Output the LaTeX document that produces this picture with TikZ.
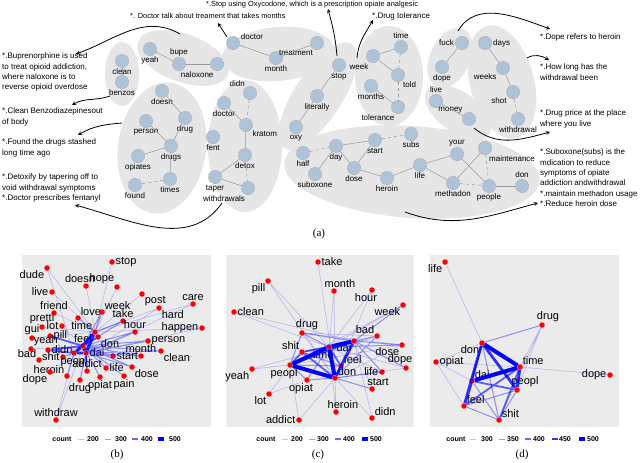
\documentclass[tikz,border=0pt]{standalone}
\usepackage{fontspec}
\setmainfont{Liberation Sans}
\newfontfamily\capfont{Liberation Serif}
\usetikzlibrary{shapes,arrows,positioning,calc}

\definecolor{nodeblue}{HTML}{AFC3D8}
\definecolor{bubblegray}{HTML}{E6E6E6}
\definecolor{panelgray}{HTML}{EBEBEB}

\begin{document}
\begin{tikzpicture}[x=1pt, y=-1pt,
    bubble/.style={ellipse, fill=bubblegray, inner sep=0pt},
    word/.style={circle, fill=nodeblue, draw=gray, densely dotted, minimum size=13.5pt, inner sep=0pt},
    wlab/.style={font=\fontsize{8}{9}\selectfont, inner sep=1pt},
    link/.style={gray!80, line width=0.5pt},
    dlink/.style={link, dashed},
    note/.style={font=\fontsize{8}{10.3}\selectfont, align=left, inner sep=0pt, anchor=north west},
    topnote/.style={note, font=\fontsize{7.4}{9}\selectfont},
    arrow/.style={->, >=stealth, thick},
    pdot/.style={circle, fill=red, inner sep=0pt, minimum size=5.5pt},
    plab/.style={font=\fontsize{11}{11}\selectfont, inner sep=0.5pt},
    legtext/.style={font=\bfseries\fontsize{7}{7}\selectfont, inner sep=0pt},
    caption/.style={font=\capfont\fontsize{11}{11}\selectfont},
    e1/.style={blue, opacity=0.25, line width=0.5pt},
    e2/.style={blue, opacity=0.4, line width=1pt},
    e3/.style={blue, opacity=0.6, line width=1.8pt},
    e4/.style={blue, opacity=0.8, line width=2.8pt},
    e5/.style={blue, line width=4pt},
]
    \useasboundingbox (0,0) rectangle (640,463);

    % Topic bubbles
    \node[bubble, minimum width=34pt, minimum height=64pt] (g1) at (122,74) {};
    \node[bubble, minimum width=96pt, minimum height=48pt, rotate=-20] (g2) at (183,58) {};
    \node[bubble, minimum width=112pt, minimum height=54pt, rotate=5] (g3) at (278,54) {};
    \node[bubble, minimum width=88pt, minimum height=132pt, rotate=-8] (g4) at (162,148) {};
    \node[bubble, minimum width=74pt, minimum height=132pt] (g5) at (245,146) {};
    \node[bubble, minimum width=48pt, minimum height=124pt, rotate=-33] (g6) at (318,96) {};
    \node[bubble, minimum width=68pt, minimum height=100pt] (g7) at (389,76) {};
    \node[bubble, minimum width=40pt, minimum height=64pt, rotate=-25] (g8) at (450,58) {};
    \node[bubble, minimum width=76pt, minimum height=40pt, rotate=-35] (g9) at (458,112) {};
    \node[bubble, minimum width=64pt, minimum height=116pt, rotate=15] (g10) at (502,82) {};
    \node[bubble, minimum width=256pt, minimum height=92pt, rotate=-4] (g11) at (412,172) {};

    % Words
    \node[word, label={[wlab]below:clean}] (clean) at (122,61) {};
    \node[word, label={[wlab]below:benzos}] (benzos) at (122,82) {};
    \node[word, label={[wlab]below:yeah}] (yeah) at (150,49) {};
    \node[word, label={[wlab]above:bupe}] (bupe) at (179,64) {};
    \node[word, label={[wlab]-110:naloxone}] (naloxone) at (217,64) {};
    \node[word, label={[wlab]15:doctor}] (doctor) at (233,43) {};
    \node[word, label={[wlab]below:month}] (month) at (276,58) {};
    \node[word, label={[wlab]-115:treatment}] (treatment) at (317,43) {};
    \node[word, label={[wlab]below:doesn}] (doesn) at (162,91) {};
    \node[word, label={[wlab]below:drug}] (drug) at (185,118) {};
    \node[word, label={[wlab]below:person}] (person) at (146,121) {};
    \node[word, label={[wlab]below:drugs}] (drugs) at (171,146) {};
    \node[word, label={[wlab]below:opiates}] (opiates) at (138,156) {};
    \node[word, label={[wlab]below:times}] (times) at (170,179) {};
    \node[word, label={[wlab]below:found}] (found) at (135,185) {};
    \node[word, label={[wlab]125:didn}] (didn) at (250,93) {};
    \node[word, label={[wlab]below:doctor}] (doctor2) at (224,103) {};
    \node[word, label={[wlab]-40:kratom}] (kratom) at (246,125) {};
    \node[word, label={[wlab]below:fent}] (fent) at (213,137) {};
    \node[word, label={[wlab]below:detox}] (detox) at (245,155) {};
    \node[word, label={[wlab]below:taper}] (taper) at (215,177) {};
    \node[word, label={[wlab]-105:withdrawals}] (withdrawals) at (248,188) {};
    \node[word, label={[wlab]below:stop}] (stop) at (339,65) {};
    \node[word, label={[wlab]below:literally}] (literally) at (317,96) {};
    \node[word, label={[wlab]below:oxy}] (oxy) at (296,127) {};
    \node[word, label={[wlab]above:time}] (time) at (401,47) {};
    \node[word, label={[wlab]-120:week}] (week) at (373,56) {};
    \node[word, label={[wlab]-55:told}] (told) at (398,75) {};
    \node[word, label={[wlab]below:months}] (months) at (371,86) {};
    \node[word, label={[wlab]-110:tolerance}] (tolerance) at (398,107) {};
    \node[word, label={[wlab]left:fuck}] (fuck) at (462,43) {};
    \node[word, label={[wlab]below:dope}] (dope) at (442,67) {};
    \node[word, label={[wlab]above:live}] (live) at (436,101) {};
    \node[word, label={[wlab]140:money}] (money) at (469,119) {};
    \node[word, label={[wlab]right:days}] (days) at (485,43) {};
    \node[word, label={[wlab]-140:weeks}] (weeks) at (503,68) {};
    \node[word, label={[wlab]-140:shot}] (shot) at (513,92) {};
    \node[word, label={[wlab]below:withdrawal}] (withdrawal) at (518,119) {};
    \node[word, label={[wlab]below:half}] (half) at (303,153) {};
    \node[word, label={[wlab]below:day}] (day) at (336,146) {};
    \node[word, label={[wlab]below:suboxone}] (suboxone) at (315,174) {};
    \node[word, label={[wlab]below:start}] (start) at (375,140) {};
    \node[word, label={[wlab]below:subs}] (subs) at (411,134) {};
    \node[word, label={[wlab]below:dose}] (dose) at (354,168) {};
    \node[word, label={[wlab]below:heroin}] (heroin) at (387,178) {};
    \node[word, label={[wlab]below:life}] (life) at (420,165) {};
    \node[word, label={[wlab]above:your}] (your) at (457,154) {};
    \node[word, label={[wlab]-65:maintenance}] (maintenance) at (485,148) {};
    \node[word, label={[wlab]below:methadon}] (methadon) at (453,183) {};
    \node[word, label={[wlab]below:people}] (people) at (489,186) {};
    \node[word, label={[wlab]above:don}] (don) at (522,186) {};

    % Word links
    \draw[link] (clean) -- (benzos);
    \draw[link] (yeah) -- (bupe);
    \draw[link] (bupe) -- (naloxone);
    \draw[link] (doctor) -- (month);
    \draw[link] (month) -- (treatment);
    \draw[link] (doesn) -- (drug);
    \draw[link] (drug) -- (drugs);
    \draw[link] (person) -- (drugs);
    \draw[link] (drugs) -- (opiates);
    \draw[link] (drugs) -- (times);
    \draw[dlink] (times) -- (found);
    \draw[dlink] (didn) -- (kratom);
    \draw[link] (doctor2) -- (kratom);
    \draw[link] (kratom) -- (detox);
    \draw[link] (detox) -- (taper);
    \draw[dlink] (detox) -- (withdrawals);
    \draw[link] (taper) -- (withdrawals);
    \draw[link] (stop) -- (literally);
    \draw[link] (literally) -- (oxy);
    \draw[link] (week) -- (time);
    \draw[dlink] (time) -- (told);
    \draw[link] (week) -- (told);
    \draw[dlink] (told) -- (tolerance);
    \draw[link] (months) -- (tolerance);
    \draw[link] (fuck) -- (dope);
    \draw[link] (live) -- (money);
    \draw[link] (days) -- (weeks);
    \draw[link] (weeks) -- (shot);
    \draw[dlink] (shot) -- (withdrawal);
    \draw[dlink] (half) -- (day);
    \draw[link] (day) -- (suboxone);
    \draw[link] (day) -- (start);
    \draw[link] (day) -- (dose);
    \draw[link] (dose) -- (start);
    \draw[dlink] (start) -- (subs);
    \draw[link] (dose) -- (heroin);
    \draw[link] (heroin) -- (life);
    \draw[link] (life) -- (your);
    \draw[link] (life) -- (methadon);
    \draw[link] (your) -- (people);
    \draw[link] (methadon) -- (maintenance);
    \draw[dlink] (maintenance) -- (people);
    \draw[dlink] (methadon) -- (people);
    \draw[link] (people) -- (don);

    % Notes
    \node[topnote] (n-oxy) at (206,1) {*.Stop using Oxycodone, which is a prescription opiate analgesic};
    \node[topnote] (n-doctor) at (130,13) {*. Doctor talk about treament that takes months};
    \node[note] (n-tol) at (372,13) {*.Drug tolerance};
    \node[note] (n-bupe) at (2,53) {*.Buprenorphine is used\\to treat opioid addiction,\\where naloxone is to\\reverse opioid overdose};
    \node[note] (n-benzo) at (2,108) {*.Clean Benzodiazepinesout\\of body};
    \node[note] (n-found) at (2,139) {*.Found the drugs stashed\\long time ago};
    \node[note] (n-detox) at (2,174) {*.Detoxify by tapering off to\\void withdrawal symptoms\\*.Doctor prescribes fentanyl};
    \node[note] (n-dope) at (540,34) {*.Dope refers to heroin};
    \node[note] (n-weeks) at (540,64) {*.How long has the\\withdrawal been};
    \node[note] (n-money) at (540,110) {*.Drug price at the place\\where you live};
    \node[note] (n-subs) at (540,149) {*.Suboxone(subs) is the\\mdication to reduce\\symptoms of opiate\\addiction andwithdrawal\\*.maintain methadon usage\\*.Reduce heroin dose};

    % Arrows from bubbles to notes
    \coordinate (a1s) at (180,34);  \coordinate (a1e) at (76,54);
    \coordinate (a2s) at (110,96);  \coordinate (a2e) at (72,105);
    \coordinate (a3s) at (122,123); \coordinate (a3e) at (78,135);
    \coordinate (a4s) at (222,203); \coordinate (a4e) at (75,205);
    \coordinate (a5s) at (227,37);  \coordinate (a5e) at (218,23);
    \coordinate (a6s) at (337,56);  \coordinate (a6e) at (328,9);
    \coordinate (a7s) at (357,58);  \coordinate (a7e) at (373,20);
    \coordinate (a8s) at (458,31);  \coordinate (a8e) at (550,29);
    \coordinate (a9s) at (527,58);  \coordinate (a9e) at (549,60);
    \coordinate (a10s) at (474,128); \coordinate (a10e) at (550,132);
    \coordinate (a11s) at (405,212); \coordinate (a11e) at (538,203);
    \draw[arrow] (a1s) to[out=150, in=20] (a1e);
    \draw[arrow] (a2s) to[out=200, in=30] (a2e);
    \draw[arrow] (a3s) to[out=185, in=30] (a3e);
    \draw[arrow] (a4s) to[out=235, in=-15] (a4e);
    \draw[arrow] (a5s) -- (a5e);
    \draw[arrow] (a6s) to[out=95, in=-75] (a6e);
    \draw[arrow] (a7s) to[out=85, in=240] (a7e);
    \draw[arrow] (a8s) to[out=60, in=160] (a8e);
    \draw[arrow] (a9s) to[out=30, in=150] (a9e);
    \draw[arrow] (a10s) to[out=-40, in=195] (a10e);
    \draw[arrow] (a11s) to[out=-20, in=195] (a11e);

    \node[caption] (cap-a) at (319,234) {(a)};

    % Panels
    \fill[panelgray] (22,255) rectangle (211,427);
    \fill[panelgray] (226,255) rectangle (414,427);
    \fill[panelgray] (430,255) rectangle (619,427);

    % Panel (b)
    \node[pdot, label={[plab]right:stop}] (b-stop) at (112,262) {};
    \node[pdot, label={[plab]below left:dude}] (b-dude) at (47,268) {};
    \node[pdot, label={[plab,xshift=-6pt]above:doesn}] (b-doesn) at (86,286) {};
    \node[pdot, label={[plab]above left:hope}] (b-hope) at (117,287) {};
    \node[pdot, label={[plab]left:live}] (b-live) at (52,292) {};
    \node[pdot, label={[plab]above:friend}] (b-friend) at (54,313) {};
    \node[pdot, label={[plab]above right:love}] (b-love) at (78,318) {};
    \node[pdot, label={[plab]above right:week}] (b-week) at (102,312) {};
    \node[pdot, label={[plab]above:take}] (b-take) at (123,321) {};
    \node[pdot, label={[plab]below right:post}] (b-post) at (142,294) {};
    \node[pdot, label={[plab]below right:hard}] (b-hard) at (159,308) {};
    \node[pdot, label={[plab]above:care}] (b-care) at (193,304) {};
    \node[pdot, label={[plab]above:hour}] (b-hour) at (135,332) {};
    \node[pdot, label={[plab]left:happen}] (b-happen) at (202,328) {};
    \node[pdot, label={[plab]right:person}] (b-person) at (148,341) {};
    \node[pdot, label={[plab]below right:don}] (b-don) at (98,337) {};
    \node[pdot, label={[plab]above:month}] (b-month) at (141,356) {};
    \node[pdot, label={[plab]below right:clean}] (b-clean) at (161,351) {};
    \node[pdot, label={[plab]right:start}] (b-start) at (113,356) {};
    \node[pdot, label={[plab]right:life}] (b-life) at (106,368) {};
    \node[pdot, label={[plab]below right:dose}] (b-dose) at (132,367) {};
    \node[pdot, label={[plab]below:opiat}] (b-opiat) at (100,377) {};
    \node[pdot, label={[plab]below:pain}] (b-pain) at (124,376) {};
    \node[pdot, label={[plab]above:pretti}] (b-pretti) at (42,327) {};
    \node[pdot, label={[plab]left:lot}] (b-lot) at (62,326) {};
    \node[pdot, label={[plab]above left:time}] (b-time) at (95,332) {};
    \node[pdot, label={[plab]above:gui}] (b-gui) at (32,338) {};
    \node[pdot, label={[plab]right:pill}] (b-pill) at (50,336) {};
    \node[pdot, label={[plab]above right:yeah}] (b-yeah) at (31,349) {};
    \node[pdot, label={[plab]above:feel}] (b-feel) at (83,346) {};
    \node[pdot, label={[plab]right:didn}] (b-didn) at (48,350) {};
    \node[pdot, label={[plab]right:dai}] (b-dai) at (86,353) {};
    \node[pdot, label={[plab]above left:bad}] (b-bad) at (39,360) {};
    \node[pdot, label={[plab]left:shit}] (b-shit) at (63,357) {};
    \node[pdot, label={[plab]below:peopl}] (b-peopl) at (74,353) {};
    \node[pdot, label={[plab]above:addict}] (b-addict) at (87,371) {};
    \node[pdot, label={[plab]above left:heroin}] (b-heroin) at (67,376) {};
    \node[pdot, label={[plab]below left:dope}] (b-dope) at (50,372) {};
    \node[pdot, label={[plab]below:drug}] (b-drug) at (80,380) {};
    \node[pdot, label={[plab]above:withdraw}] (b-withdraw) at (56,420) {};

    \draw[e1] (b-time) -- (b-stop) (b-time) -- (b-dude) (b-time) -- (b-doesn) (b-time) -- (b-hope)
        (b-time) -- (b-live) (b-time) -- (b-friend) (b-time) -- (b-pretti) (b-time) -- (b-gui)
        (b-time) -- (b-care) (b-time) -- (b-happen) (b-time) -- (b-post) (b-time) -- (b-hard)
        (b-feel) -- (b-withdraw) (b-feel) -- (b-dope) (b-feel) -- (b-bad) (b-feel) -- (b-yeah)
        (b-feel) -- (b-lot) (b-dai) -- (b-care) (b-dai) -- (b-happen) (b-dai) -- (b-hard)
        (b-peopl) -- (b-withdraw) (b-peopl) -- (b-dude);
    \draw[e2] (b-feel) -- (b-week) (b-feel) -- (b-take) (b-feel) -- (b-hour) (b-feel) -- (b-person)
        (b-feel) -- (b-month) (b-feel) -- (b-clean) (b-feel) -- (b-start) (b-feel) -- (b-life)
        (b-feel) -- (b-dose) (b-feel) -- (b-pain) (b-feel) -- (b-opiat) (b-dai) -- (b-hour)
        (b-dai) -- (b-person) (b-dai) -- (b-clean) (b-dai) -- (b-month) (b-time) -- (b-love)
        (b-dai) -- (b-drug) (b-peopl) -- (b-heroin) (b-peopl) -- (b-shit) (b-time) -- (b-week)
        (b-time) -- (b-take) (b-dai) -- (b-start) (b-dai) -- (b-dose);
    \draw[e3] (b-time) -- (b-don) (b-feel) -- (b-pill) (b-feel) -- (b-didn) (b-dai) -- (b-addict)
        (b-peopl) -- (b-didn) (b-time) -- (b-peopl) (b-feel) -- (b-don);
    \draw[e4] (b-time) -- (b-feel) (b-time) -- (b-dai) (b-feel) -- (b-peopl) (b-dai) -- (b-peopl);
    \draw[e5] (b-feel) -- (b-dai);

    % Panel (c)
    \node[pdot, label={[plab]right:take}] (c-take) at (318,262) {};
    \node[pdot, label={[plab]below left:pill}] (c-pill) at (268,281) {};
    \node[pdot, label={[plab]right:clean}] (c-clean) at (234,312) {};
    \node[pdot, label={[plab,xshift=6pt]above:month}] (c-month) at (334,291) {};
    \node[pdot, label={[plab,xshift=-6pt]below:hour}] (c-hour) at (372,290) {};
    \node[pdot, label={[plab]below left:week}] (c-week) at (403,305) {};
    \node[pdot, label={[plab,xshift=5pt]above:drug}] (c-drug) at (302,333) {};
    \node[pdot, label={[plab]above left:bad}] (c-bad) at (377,336) {};
    \node[pdot, label={[plab]above left:shit}] (c-shit) at (302,352) {};
    \node[pdot, label={[plab,xshift=-6pt]below:time}] (c-time) at (329,347) {};
    \node[pdot, label={[plab]below left:dai}] (c-dai) at (354,341) {};
    \node[pdot, label={[plab]below left:dose}] (c-dose) at (402,345) {};
    \node[pdot, label={[plab]above right:feel}] (c-feel) at (341,366) {};
    \node[pdot, label={[plab,xshift=-6pt]above:dope}] (c-dope) at (406,368) {};
    \node[pdot, label={[plab,xshift=-6pt]below:peopl}] (c-peopl) at (290,365) {};
    \node[pdot, label={[plab]above right:don}] (c-don) at (335,378) {};
    \node[pdot, label={[plab]left:life}] (c-life) at (382,372) {};
    \node[pdot, label={[plab,xshift=6pt]above:start}] (c-start) at (372,389) {};
    \node[pdot, label={[plab,xshift=-6pt]below:opiat}] (c-opiat) at (307,380) {};
    \node[pdot, label={[plab]below left:yeah}] (c-yeah) at (252,369) {};
    \node[pdot, label={[plab]below left:lot}] (c-lot) at (269,394) {};
    \node[pdot, label={[plab,xshift=7pt]above:heroin}] (c-heroin) at (336,412) {};
    \node[pdot, label={[plab]above right:didn}] (c-didn) at (372,418) {};
    \node[pdot, label={[plab]left:addict}] (c-addict) at (299,420) {};

    \draw[e1] (c-take) -- (c-don) (c-pill) -- (c-time) (c-pill) -- (c-don) (c-clean) -- (c-time)
        (c-clean) -- (c-dai) (c-month) -- (c-don) (c-month) -- (c-time) (c-hour) -- (c-time)
        (c-hour) -- (c-don) (c-week) -- (c-time) (c-week) -- (c-peopl) (c-yeah) -- (c-dai)
        (c-yeah) -- (c-peopl) (c-lot) -- (c-peopl) (c-lot) -- (c-opiat) (c-addict) -- (c-peopl)
        (c-addict) -- (c-don) (c-heroin) -- (c-don) (c-heroin) -- (c-time) (c-didn) -- (c-don)
        (c-didn) -- (c-dai) (c-start) -- (c-dai) (c-dope) -- (c-time) (c-dope) -- (c-don)
        (c-dose) -- (c-peopl) (c-dose) -- (c-don) (c-bad) -- (c-peopl) (c-life) -- (c-time)
        (c-drug) -- (c-don) (c-drug) -- (c-bad) (c-drug) -- (c-dose);
    \draw[e2] (c-drug) -- (c-time) (c-drug) -- (c-peopl) (c-drug) -- (c-dai) (c-shit) -- (c-dai)
        (c-bad) -- (c-time) (c-bad) -- (c-don) (c-week) -- (c-dai) (c-dose) -- (c-dai)
        (c-dose) -- (c-time) (c-dope) -- (c-dai) (c-life) -- (c-don) (c-life) -- (c-dai)
        (c-start) -- (c-don) (c-opiat) -- (c-peopl) (c-opiat) -- (c-time) (c-opiat) -- (c-don)
        (c-shit) -- (c-feel) (c-peopl) -- (c-feel);
    \draw[e3] (c-shit) -- (c-time) (c-shit) -- (c-peopl) (c-shit) -- (c-don) (c-feel) -- (c-don)
        (c-feel) -- (c-time) (c-peopl) -- (c-dai);
    \draw[e4] (c-dai) -- (c-don) (c-dai) -- (c-feel);
    \draw[e5] (c-time) -- (c-dai) (c-time) -- (c-peopl) (c-time) -- (c-don) (c-peopl) -- (c-don);

    % Panel (d)
    \node[pdot, label={[plab]below left:life}] (d-life) at (445,262) {};
    \node[pdot, label={[plab,xshift=6pt]above:drug}] (d-drug) at (542,325) {};
    \node[pdot, label={[plab]below left:don}] (d-don) at (482,343) {};
    \node[pdot, label={[plab]right:opiat}] (d-opiat) at (436,362) {};
    \node[pdot, label={[plab]above right:time}] (d-time) at (520,367) {};
    \node[pdot, label={[plab]left:dope}] (d-dope) at (610,375) {};
    \node[pdot, label={[plab]above right:dai}] (d-dai) at (472,381) {};
    \node[pdot, label={[plab,xshift=8pt]above:peopl}] (d-peopl) at (517,390) {};
    \node[pdot, label={[plab]above right:feel}] (d-feel) at (464,406) {};
    \node[pdot, label={[plab]above right:shit}] (d-shit) at (499,420) {};

    \draw[e1] (d-life) -- (d-don) (d-time) -- (d-dope) (d-opiat) -- (d-time) (d-opiat) -- (d-don)
        (d-opiat) -- (d-feel) (d-opiat) -- (d-dai) (d-time) -- (d-drug) (d-peopl) -- (d-drug)
        (d-shit) -- (d-drug);
    \draw[e2] (d-don) -- (d-drug) (d-dai) -- (d-shit) (d-feel) -- (d-shit) (d-don) -- (d-shit)
        (d-peopl) -- (d-shit) (d-feel) -- (d-peopl);
    \draw[e3] (d-don) -- (d-dai) (d-dai) -- (d-peopl) (d-time) -- (d-shit) (d-feel) -- (d-time);
    \draw[e4] (d-don) -- (d-peopl) (d-time) -- (d-peopl) (d-don) -- (d-feel) (d-feel) -- (d-dai);
    \draw[e5] (d-don) -- (d-time) (d-dai) -- (d-time);

    % Legends
    \node[legtext] (b-count) at (62,439) {count};
    \draw[e1] (78,439) -- (84,439);   \node[legtext] (b-200) at (93,439) {200};
    \draw[e2] (105,439) -- (111,439); \node[legtext] (b-300) at (121,439) {300};
    \draw[e3] (132,439) -- (138,439); \node[legtext] (b-400) at (147,439) {400};
    \draw[e5] (158,439) -- (164,439); \node[legtext] (b-500) at (175,439) {500};

    \node[legtext] (c-count) at (266,439) {count};
    \draw[e1] (282,439) -- (288,439); \node[legtext] (c-200) at (297,439) {200};
    \draw[e2] (309,439) -- (315,439); \node[legtext] (c-300) at (323,439) {300};
    \draw[e3] (335,439) -- (341,439); \node[legtext] (c-400) at (349,439) {400};
    \draw[e5] (362,439) -- (368,439); \node[legtext] (c-500) at (376,439) {500};

    \node[legtext] (d-count) at (456,439) {count};
    \draw[e1] (470,439) -- (476,439); \node[legtext] (d-300) at (487,439) {300};
    \draw[e2] (499,439) -- (505,439); \node[legtext] (d-350) at (513,439) {350};
    \draw[e3] (525,439) -- (531,439); \node[legtext] (d-400) at (539,439) {400};
    \draw[e4] (552,439) -- (558,439); \node[legtext] (d-450) at (565,439) {450};
    \draw[e5] (579,439) -- (585,439); \node[legtext] (d-500) at (593,439) {500};

    \node[caption] (cap-b) at (117,455) {(b)};
    \node[caption] (cap-c) at (318,455) {(c)};
    \node[caption] (cap-d) at (522,455) {(d)};
\end{tikzpicture}
\end{document}
